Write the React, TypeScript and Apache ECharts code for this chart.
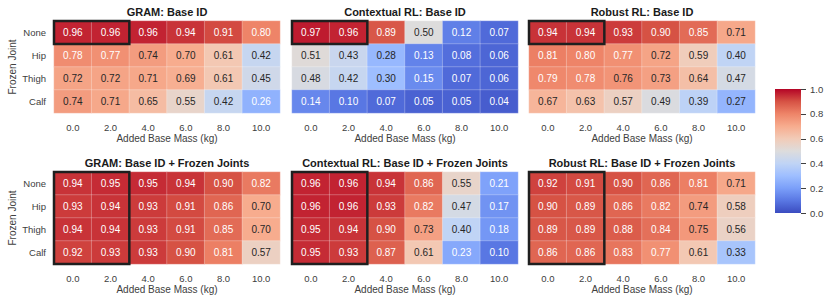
import React, { useEffect, useRef } from "react";
import * as echarts from "echarts";

const massLabels = ["0.0", "2.0", "4.0", "6.0", "8.0", "10.0"];
const jointLabels = ["None", "Hip", "Thigh", "Calf"];
const colorbarTicks = [0, 0.2, 0.4, 0.6, 0.8, 1.0];

const gramBase = [
  [0.96, 0.96, 0.96, 0.94, 0.91, 0.8],
  [0.78, 0.77, 0.74, 0.7, 0.61, 0.42],
  [0.72, 0.72, 0.71, 0.69, 0.61, 0.45],
  [0.74, 0.71, 0.65, 0.55, 0.42, 0.26],
];
const ctxBase = [
  [0.97, 0.96, 0.89, 0.5, 0.12, 0.07],
  [0.51, 0.43, 0.28, 0.13, 0.08, 0.06],
  [0.48, 0.42, 0.3, 0.15, 0.07, 0.06],
  [0.14, 0.1, 0.07, 0.05, 0.05, 0.04],
];
const robBase = [
  [0.94, 0.94, 0.93, 0.9, 0.85, 0.71],
  [0.81, 0.8, 0.77, 0.72, 0.59, 0.4],
  [0.79, 0.78, 0.76, 0.73, 0.64, 0.47],
  [0.67, 0.63, 0.57, 0.49, 0.39, 0.27],
];
const gramFrozen = [
  [0.94, 0.95, 0.95, 0.94, 0.9, 0.82],
  [0.93, 0.94, 0.93, 0.91, 0.86, 0.7],
  [0.94, 0.94, 0.93, 0.91, 0.85, 0.7],
  [0.92, 0.93, 0.93, 0.9, 0.81, 0.57],
];
const ctxFrozen = [
  [0.96, 0.96, 0.94, 0.86, 0.55, 0.21],
  [0.96, 0.96, 0.93, 0.82, 0.47, 0.17],
  [0.95, 0.94, 0.9, 0.73, 0.4, 0.18],
  [0.95, 0.93, 0.87, 0.61, 0.23, 0.1],
];
const robFrozen = [
  [0.92, 0.91, 0.9, 0.86, 0.81, 0.71],
  [0.9, 0.89, 0.86, 0.82, 0.74, 0.58],
  [0.89, 0.89, 0.88, 0.84, 0.75, 0.56],
  [0.86, 0.86, 0.83, 0.77, 0.61, 0.33],
];

const panelTitles = [
  "GRAM: Base ID",
  "Contextual RL: Base ID",
  "Robust RL: Base ID",
  "GRAM: Base ID + Frozen Joints",
  "Contextual RL: Base ID + Frozen Joints",
  "Robust RL: Base ID + Frozen Joints",
];
const panelData = [gramBase, ctxBase, robBase, gramFrozen, ctxFrozen, robFrozen];
// highlighted block: [colStart, rowStart, colEnd, rowEnd]
const highlightTop = [0, 0, 1, 0];
const highlightBottom = [0, 0, 1, 3];

const coolwarm = [
  "#3b4cc0", "#5977e3", "#7b9ff9", "#9ebeff", "#c0d4f5", "#dddcdc",
  "#f2cbb7", "#f7ac8e", "#ee8468", "#d65244", "#b40426",
];

const FONT = "'Liberation Sans', Arial, Helvetica, sans-serif";
const TXT = "#262626";
const TICK = "#404040";

export default function App() {
  const ref = useRef<HTMLDivElement>(null);
  useEffect(() => {
    if (!ref.current) return;
    const chart = echarts.init(ref.current, null, { renderer: "svg" });
    const lefts = [54, 292, 529];
    const tops = [21, 172];
    const W = 226;
    const H = 92;
    const grids: any[] = [];
    const xAxes: any[] = [];
    const yAxes: any[] = [];
    const series: any[] = [];
    const titles: any[] = [];
    for (let p = 0; p < 6; p++) {
      const r = Math.floor(p / 3);
      const c = p % 3;
      grids.push({ left: lefts[c], top: tops[r], width: W, height: H });
      xAxes.push({
        type: "category",
        gridIndex: p,
        data: massLabels,
        axisLine: { show: false },
        axisTick: { show: false },
        splitLine: { show: false },
        axisLabel: { fontSize: 9.5, color: TICK, fontFamily: FONT, margin: 9 },
        name: "Added Base Mass (kg)",
        nameLocation: "middle",
        nameGap: 20,
        nameTextStyle: { fontSize: 10, color: TICK, fontFamily: FONT },
      });
      yAxes.push({
        type: "category",
        gridIndex: p,
        data: jointLabels,
        inverse: true,
        axisLine: { show: false },
        axisTick: { show: false },
        splitLine: { show: false },
        axisLabel: { show: c === 0, fontSize: 9.5, color: TICK, fontFamily: FONT, margin: 8 },
        name: c === 0 ? "Frozen Joint" : "",
        nameLocation: "middle",
        nameGap: 37,
        nameRotate: 90,
        nameTextStyle: { fontSize: 10, color: TICK, fontFamily: FONT },
      });
      titles.push({
        text: panelTitles[p],
        left: lefts[c] + W / 2,
        top: tops[r] - 15,
        textAlign: "center",
        padding: 0,
        textStyle: { fontSize: 11, fontWeight: "bold", color: "#1a1a1a", fontFamily: FONT },
      });
      const data: any[] = [];
      panelData[p].forEach((row, yi) =>
        row.forEach((v, xi) => {
          const white = v > 0.765 || v < 0.265;
          data.push({ value: [xi, yi, v], label: { color: white ? "#ffffff" : TXT } });
        })
      );
      series.push({
        type: "heatmap",
        xAxisIndex: p,
        yAxisIndex: p,
        data,
        itemStyle: { borderColor: "rgba(255,255,255,0.5)", borderWidth: 0.5 },
        label: {
          show: true,
          fontSize: 10,
          fontFamily: FONT,
          formatter: (pr: any) => pr.value[2].toFixed(2),
        },
        emphasis: { disabled: true },
      });
    }
    // highlight boxes
    for (let p = 0; p < 6; p++) {
      const hl = p < 3 ? highlightTop : highlightBottom;
      series.push({
        type: "custom",
        xAxisIndex: p,
        yAxisIndex: p,
        data: [hl],
        encode: { x: [0, 2], y: [1, 3] },
        z: 10,
        silent: true,
        renderItem: (params: any, api: any) => {
          const a = api.coord([api.value(0), api.value(1)]);
          const b = api.coord([api.value(2), api.value(3)]);
          const s = api.size([1, 1]);
          const x0 = Math.min(a[0], b[0]) - s[0] / 2;
          const x1 = Math.max(a[0], b[0]) + s[0] / 2;
          const y0 = Math.min(a[1], b[1]) - s[1] / 2;
          const y1 = Math.max(a[1], b[1]) + s[1] / 2;
          return {
            type: "rect",
            shape: { x: x0, y: y0, width: x1 - x0, height: y1 - y0 },
            style: { fill: "none", stroke: "#1f1f1f", lineWidth: 2.5 },
          };
        },
      });
    }
    // colorbar
    grids.push({ left: 775, top: 89, width: 26, height: 124 });
    xAxes.push({ type: "value", gridIndex: 6, show: false, min: 0, max: 1 });
    yAxes.push({
      type: "value",
      gridIndex: 6,
      position: "right",
      min: colorbarTicks[0],
      max: colorbarTicks[colorbarTicks.length - 1],
      interval: 0.2,
      axisLine: { show: false },
      axisTick: { show: false },
      splitLine: { show: false },
      axisLabel: {
        fontSize: 9.5,
        color: TICK,
        fontFamily: FONT,
        margin: 9,
        formatter: (v: number) => v.toFixed(1),
      },
    });
    const cbStops = coolwarm.map((col, i) => ({ offset: i / (coolwarm.length - 1), color: col }));
    series.push({
      type: "custom",
      xAxisIndex: 6,
      yAxisIndex: 6,
      data: [[colorbarTicks[0], colorbarTicks[colorbarTicks.length - 1]]],
      encode: { y: [0, 1] },
      silent: true,
      renderItem: (params: any, api: any) => {
        const cs = params.coordSys;
        const yTop = api.coord([0, api.value(1)])[1];
        const yBot = api.coord([0, api.value(0)])[1];
        const xr = cs.x + cs.width;
        const children: any[] = [
          {
            type: "rect",
            shape: { x: cs.x, y: yTop, width: cs.width, height: yBot - yTop },
            style: { fill: new echarts.graphic.LinearGradient(0, 1, 0, 0, cbStops) },
          },
        ];
        colorbarTicks.forEach((t) => {
          const ty = Math.round(api.coord([0, t])[1]) + 0.5;
          children.push({
            type: "line",
            shape: { x1: xr, y1: ty, x2: xr + 5, y2: ty },
            style: { stroke: TICK, lineWidth: 1 },
          });
        });
        return { type: "group", children };
      },
    });

    chart.setOption({
      animation: false,
      backgroundColor: "#ffffff",
      title: titles,
      grid: grids,
      xAxis: xAxes,
      yAxis: yAxes,
      visualMap: {
        type: "continuous",
        show: false,
        min: 0,
        max: 1,
        seriesIndex: [0, 1, 2, 3, 4, 5],
        inRange: { color: coolwarm },
      },
      series,
    });
    return () => chart.dispose();
  }, []);
  return (
    <div
      ref={ref}
      style={{ position: "fixed", left: 0, top: 0, width: 831, height: 303, background: "#fff" }}
    />
  );
}
